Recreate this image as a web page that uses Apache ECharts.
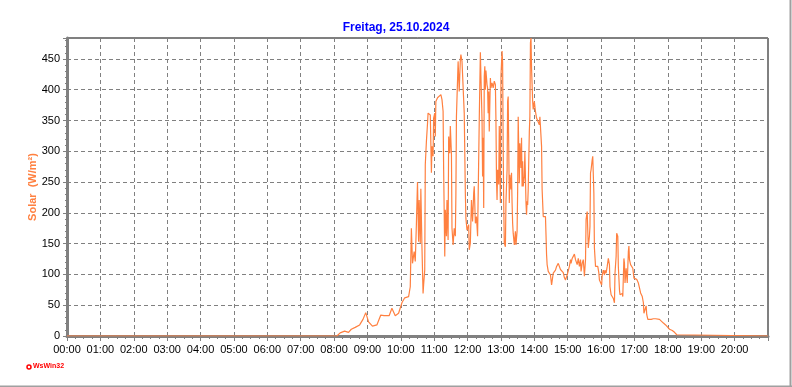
<!DOCTYPE html>
<html>
<head>
<meta charset="utf-8">
<script src="https://cdn.jsdelivr.net/npm/echarts@6/dist/echarts.min.js"></script>
<style>
  html, body { margin: 0; padding: 0; background: #fff; }
  #chart { width: 792px; height: 387px; }
</style>
</head>
<body>
<div id="chart"></div>
<script>
// solar radiation, Freitag 25.10.2024
const times = [
  '0:00', '8:05', '8:07', '8:11', '8:19', '8:26', '8:31', '8:38', '8:46', '8:52', '8:57',
  '9:02', '9:09', '9:17', '9:24', '9:30', '9:39', '9:44', '9:50', '9:56',
  '10:02', '10:07', '10:14', '10:17', '10:19', '10:21', '10:24', '10:26', '10:28', '10:30',
  '10:32', '10:33', '10:35', '10:36', '10:38', '10:40', '10:41', '10:43', '10:44', '10:46',
  '10:48', '10:49', '10:51', '10:53', '10:55', '10:56', '10:58', '10:59',
  '11:01', '11:02', '11:03', '11:06', '11:12', '11:14', '11:16', '11:17', '11:19', '11:20',
  '11:22', '11:23', '11:25', '11:26', '11:28', '11:29', '11:31', '11:32', '11:34', '11:36',
  '11:38', '11:39', '11:40', '11:42', '11:43', '11:45', '11:47', '11:48', '11:50', '11:52',
  '11:54', '11:56', '11:57', '11:59',
  '12:02', '12:03', '12:05', '12:07', '12:09', '12:11', '12:12', '12:14', '12:16', '12:18',
  '12:21', '12:23', '12:24', '12:26', '12:27', '12:28', '12:29', '12:30', '12:31', '12:32',
  '12:33', '12:35', '12:36', '12:37', '12:38', '12:39', '12:41', '12:42', '12:44', '12:46',
  '12:48', '12:50', '12:51', '12:52', '12:53', '12:54', '12:56', '12:57', '12:58', '12:59',
  '13:00', '13:02', '13:03', '13:04', '13:05', '13:06', '13:08', '13:09', '13:11', '13:12',
  '13:13', '13:14', '13:15', '13:16', '13:18', '13:19', '13:20', '13:21', '13:22', '13:24',
  '13:26', '13:27', '13:29', '13:30', '13:31', '13:33', '13:34', '13:36', '13:37', '13:38',
  '13:39', '13:40', '13:42', '13:43', '13:45', '13:46', '13:47', '13:48', '13:49', '13:51',
  '13:52', '13:53', '13:54', '13:55', '13:56', '13:57', '13:58',
  '14:00', '14:02', '14:04', '14:06', '14:07', '14:09', '14:10', '14:12', '14:13', '14:14',
  '14:16', '14:18', '14:20', '14:21', '14:22', '14:23', '14:25', '14:27', '14:29', '14:31',
  '14:32', '14:34', '14:36', '14:38', '14:40', '14:41', '14:43', '14:45', '14:47', '14:48',
  '14:50', '14:52', '14:54', '14:56', '14:57', '14:59',
  '15:01', '15:03', '15:05', '15:06', '15:08', '15:10', '15:12', '15:14', '15:15', '15:17',
  '15:19', '15:21', '15:23', '15:24', '15:26', '15:28', '15:30', '15:32', '15:33', '15:35',
  '15:37', '15:39', '15:40', '15:41', '15:42', '15:44', '15:45', '15:46', '15:47', '15:48',
  '15:50', '15:52', '15:54', '15:56', '15:57', '15:59',
  '16:01', '16:02', '16:04', '16:06', '16:07', '16:09', '16:11', '16:13', '16:15', '16:16',
  '16:18', '16:20', '16:22', '16:24', '16:25', '16:27', '16:28', '16:30', '16:31', '16:33',
  '16:34', '16:36', '16:38', '16:39', '16:41', '16:42', '16:43', '16:45', '16:47', '16:49',
  '16:50', '16:51', '16:53', '16:55', '16:57', '16:59',
  '17:02', '17:04', '17:07', '17:09', '17:11', '17:14', '17:16', '17:17', '17:19', '17:21',
  '17:22', '17:24', '17:27', '17:30', '17:34', '17:38', '17:41', '17:45', '17:48', '17:52',
  '17:56', '17:59',
  '18:03', '18:08', '18:12', '18:16', '18:17', '21:00'
];
const solar = [
  0, 0, 0, 5, 8, 6, 11, 14, 18, 27, 38,
  23, 16, 18, 34, 33, 33, 45, 33, 37,
  54, 62, 64, 80, 175, 118, 137, 121, 181, 250,
  153, 221, 151, 239, 145, 69, 83, 107, 278, 316,
  345, 362, 365, 359, 265, 308, 292, 354,
  362, 324, 381, 387, 392, 384, 365, 270, 129, 205,
  162, 221, 156, 324, 297, 341, 295, 175, 148, 175,
  162, 229, 357, 357, 446, 397, 449, 457, 446, 446,
  362, 232, 191, 172,
  181, 140, 151, 221, 186, 232, 243, 183, 194, 162,
  351, 461, 422, 351, 259, 322, 208, 422, 438, 400,
  431, 408, 403, 362, 397, 332, 419, 403, 411, 403,
  414, 408, 351, 254, 221, 270, 246, 341, 276, 216,
  422, 463, 444, 308, 213, 151, 145, 219, 270, 381,
  389, 308, 216, 262, 238, 265, 216, 183, 167, 148,
  170, 148, 170, 235, 356, 248, 313, 273, 322, 243,
  284, 243, 259, 300, 216, 197, 219, 213, 238, 332,
  357, 476, 484, 435, 433, 381, 368,
  381, 365, 354, 357, 351, 343, 356, 354, 308, 238,
  194, 194, 194, 164, 132, 116, 105, 106, 99, 83,
  86, 102, 102, 107, 113, 116, 118, 116, 108, 110,
  105, 103, 95, 91, 94, 99,
  97, 113, 124, 118, 126, 129, 133, 124, 126, 116,
  126, 113, 124, 105, 118, 124, 97, 124, 189, 202,
  143, 162, 178, 265, 270, 286, 292, 295, 232, 143,
  113, 110, 113, 102, 91, 88,
  83, 99, 107, 99, 107, 102, 113, 126, 116, 80,
  67, 69, 61, 54, 102, 129, 167, 162, 113, 75,
  67, 64, 69, 64, 126, 118, 86, 110, 86, 137,
  146, 124, 116, 113, 110, 94,
  97, 92, 86, 78, 70, 64, 54, 37, 43, 49,
  35, 27, 25, 27, 28, 28, 29, 27, 24, 21,
  18, 15,
  11, 9, 6, 2, 0, 0
];
const yTicks = [0, 50, 100, 150, 200, 250, 300, 350, 400, 450];

function toMinutes(t) {
  const p = t.split(':');
  return +p[0] * 60 + +p[1];
}
function fmtHour(v) {
  const h = Math.floor(v / 60);
  return (h < 10 ? '0' : '') + h + ':00';
}

const points = times.map((t, i) => [toMinutes(t), solar[i]]);

const chart = echarts.init(document.getElementById('chart'));
const gridColor = '#808080';
chart.setOption({
  animation: false,
  backgroundColor: '#fff',
  title: {
    text: 'Freitag, 25.10.2024',
    left: 'center',
    top: 17,
    textStyle: {
      color: '#0000ff',
      fontSize: 12,
      fontWeight: 'bold',
      fontFamily: "'Liberation Sans Narrow', 'Liberation Sans', Arial",
    },
  },
  grid: {
    left: 67,
    right: 24,
    top: 38,
    bottom: 51,
    show: true,
    borderColor: '#000',
    borderWidth: 1,
  },
  xAxis: {
    type: 'value',
    min: 0,
    max: 1260,
    interval: 60,
    axisLine: { lineStyle: { color: gridColor, width: 3 } },
    axisTick: { show: true, length: 5, lineStyle: { color: gridColor } },
    minorTick: { show: true, splitNumber: 4, length: 3, lineStyle: { color: gridColor } },
    axisLabel: {
      color: '#000',
      fontSize: 11,
      fontFamily: "'Liberation Sans', Arial",
      margin: 8,
      showMaxLabel: false,
      formatter: fmtHour,
    },
    splitLine: { show: true, lineStyle: { color: gridColor, type: [4, 3] } },
  },
  yAxis: {
    type: 'value',
    min: 0,
    max: 484,
    interval: 50,
    name: 'Solar  (W/m²)',
    nameLocation: 'middle',
    nameGap: 29,
    nameMoveOverlap: false,
    nameTextStyle: {
      color: '#ff8040',
      fontSize: 11,
      fontWeight: 'bold',
      fontFamily: "'Liberation Sans', Arial",
    },
    axisLine: { show: true, lineStyle: { color: gridColor, width: 3 } },
    axisTick: { show: true, length: 4, lineStyle: { color: gridColor } },
    minorTick: { show: true, splitNumber: 5, length: 2, lineStyle: { color: gridColor } },
    axisLabel: {
      color: '#000',
      fontSize: 11,
      fontFamily: "'Liberation Sans', Arial",
      margin: 7,
      showMaxLabel: false,
      formatter: (v) => (yTicks.indexOf(v) >= 0 ? String(v) : ''),
    },
    splitLine: { show: true, lineStyle: { color: gridColor, type: [4, 3] } },
  },
  series: [
    {
      name: 'Solar',
      type: 'line',
      data: points,
      showSymbol: false,
      symbol: 'none',
      lineStyle: { color: '#ff8040', width: 1.2 },
      z: 5,
    },
  ],
  graphic: [
    {
      type: 'line',
      shape: { x1: 790.5, y1: 0, x2: 790.5, y2: 387 },
      style: { stroke: '#a0a0a0', lineWidth: 2 },
    },
    {
      type: 'line',
      shape: { x1: 0, y1: 386.5, x2: 792, y2: 386.5 },
      style: { stroke: '#a0a0a0', lineWidth: 2 },
    },
    {
      type: 'circle',
      shape: { cx: 29, cy: 367, r: 2 },
      style: { fill: '#fff', stroke: '#ff0000', lineWidth: 1.5 },
    },
    {
      type: 'text',
      left: 33,
      top: 363,
      style: {
        text: 'WsWin32',
        fill: '#ff0000',
        font: "bold 7px 'Liberation Sans', Arial",
      },
    },
  ],
});
</script>
</body>
</html>
